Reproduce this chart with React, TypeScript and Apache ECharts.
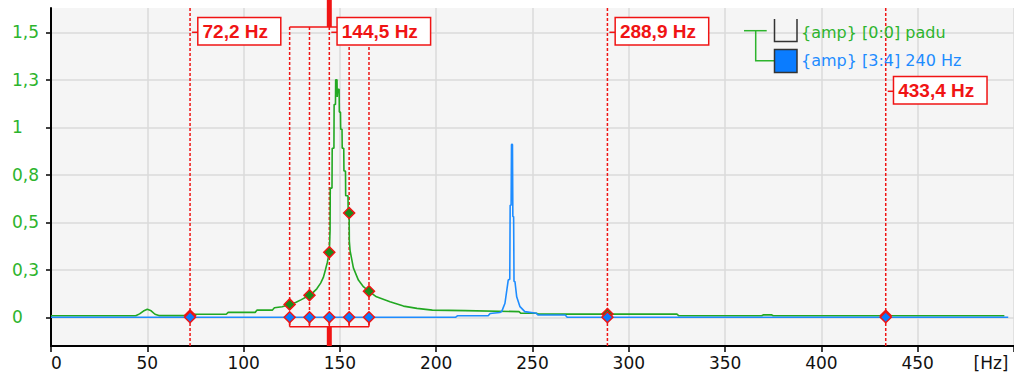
import React, { useEffect, useRef } from 'react';
import * as echarts from 'echarts';

// ---------- data ----------
const greenName = '{amp} [0:0] padu';
const blueName = '{amp} [3:4] 240 Hz';

const greenPoints: [number, number][] = [
  [0, 0.008], [44, 0.008], [46, 0.018], [48, 0.033], [50, 0.042], [52, 0.034], [54, 0.016], [56, 0.009],
  [73, 0.009], [74, 0.016], [91, 0.016], [92, 0.026], [106, 0.026], [107, 0.038], [115, 0.038], [116, 0.05],
  [120, 0.056], [123.9, 0.068], [127, 0.078], [130, 0.093], [134.2, 0.116], [136, 0.13], [138, 0.15],
  [140, 0.18], [141.4, 0.21], [142.5, 0.25], [143.5, 0.29], [144.5, 0.342], [144.9, 0.46], [145, 0.68],
  [145.9, 0.68], [146, 0.89], [146.9, 0.89], [147, 1.12], [147.7, 1.12], [147.8, 1.25], [148.5, 1.25],
  [148.6, 1.16], [148.9, 1.2], [149.6, 1.2], [149.7, 1.08], [150.3, 1.08], [150.4, 0.99], [151.1, 0.99],
  [151.2, 0.89], [152, 0.89], [152.1, 0.77], [152.9, 0.77], [153, 0.64], [154.2, 0.64], [154.3, 0.55],
  [154.8, 0.549], [154.9, 0.4], [155.3, 0.35], [157, 0.26], [159.6, 0.196], [162.2, 0.161], [165.1, 0.137],
  [169, 0.108], [176, 0.082], [183, 0.059], [190, 0.047], [198, 0.038], [215, 0.035], [243, 0.03],
  [244, 0.021], [252, 0.021], [253, 0.017], [325, 0.017], [326, 0.008], [369, 0.008], [370, 0.013],
  [374, 0.013], [375, 0.008], [495, 0.008],
];

const bluePoints: [number, number][] = [
  [0, 0], [210, 0], [211, 0.008], [227, 0.008], [228, 0.02], [233, 0.025], [234, 0.03], [235.7, 0.074],
  [237.4, 0.196], [238.2, 0.2], [238.4, 0.59], [238.9, 0.59], [239.1, 0.91], [239.6, 0.91], [239.8, 0.53],
  [240.2, 0.53], [240.4, 0.19], [240.9, 0.187], [241.8, 0.108], [243.5, 0.056], [246, 0.03], [252, 0.021],
  [253, 0.012], [267, 0.012], [268, 0], [497, 0],
];

const harmonicFreqs = [72.2, 144.5, 288.9, 433.4];
const harmonicLabels = ['72,2 Hz', '144,5 Hz', '288,9 Hz', '433,4 Hz'];
const sidebandFreqs = [123.9, 134.2, 144.5, 154.8, 165.1];
const markerFreqs = [72.2, 123.9, 134.2, 144.5, 154.8, 165.1, 288.9, 433.4];
const markerGreenAmp = [0.009, 0.068, 0.116, 0.342, 0.549, 0.137, 0.017, 0.008];
const markerBlueAmp = [0, 0, 0, 0, 0, 0, 0, 0];
const yTicks = [0, 0.25, 0.5, 0.75, 1, 1.25, 1.5];
const X_MIN = 0;
const X_MAX = 500;
const X_STEP = 50;
const Y_MIN = -0.151;
const Y_MAX = 1.628;
const xUnit = '[Hz]';

// ---------- style / layout ----------
const FONT = '"DejaVu Sans", Verdana, sans-serif';
const GREEN = '#22a822';
const GREEN_TXT = '#2db42d';
const BLUE = '#1e8cff';
const BLUE_FILL = '#0a7cff';
const RED = '#f01414';
const LABEL_Y = [31.3, 31.3, 31.3, 90.3];
const BRACKET_TOP_Y = 27;
const BRACKET_DROP = 9.4;

function fmtY(v: number) {
  if (Math.abs(v) < 1e-9) return '0';
  if (Math.abs(v - 1) < 1e-9) return '1';
  return (Math.round(v * 10) / 10).toFixed(1).replace('.', ',');
}

export default function App() {
  const ref = useRef<HTMLDivElement>(null);
  useEffect(() => {
    const el = ref.current!;
    const chart = echarts.init(el, null, { renderer: 'svg' });
    const option: any = {
      animation: false,
      backgroundColor: '#ffffff',
      textStyle: { fontFamily: FONT },
      grid: {
        left: 51, right: 0, top: 8, bottom: 35,
        show: true, backgroundColor: '#f5f5f5', borderWidth: 0,
        containLabel: false, outerBoundsMode: 'none',
      },
      xAxis: {
        type: 'value', min: X_MIN, max: X_MAX, interval: X_STEP,
        axisLine: { show: true, onZero: false, lineStyle: { color: '#000', width: 2 } },
        axisTick: { show: true, length: 6, lineStyle: { color: '#000', width: 1.5 } },
        axisLabel: {
          show: true, color: '#111', fontSize: 17, fontFamily: FONT, margin: 8,
          alignMinLabel: 'left',
          formatter: (v: number) => (v >= X_MAX ? '' : String(v)),
        },
        splitLine: { show: true, lineStyle: { color: '#dadada', width: 1.5 } },
      },
      yAxis: {
        type: 'value', min: Y_MIN, max: Y_MAX,
        axisLine: { show: true, onZero: false, lineStyle: { color: '#000', width: 2 } },
        axisTick: { show: true, length: 5, customValues: yTicks, lineStyle: { color: '#000', width: 1.5 } },
        axisLabel: {
          show: true, customValues: yTicks, color: GREEN_TXT, fontSize: 17, fontFamily: FONT,
          align: 'left', margin: 39, formatter: fmtY,
        },
        splitLine: { show: true, lineStyle: { color: '#dadada', width: 1.5 } },
      },
      series: [
        {
          name: greenName, type: 'line', data: greenPoints, showSymbol: false, symbol: 'none',
          lineStyle: { color: GREEN, width: 1.6 }, itemStyle: { color: GREEN }, z: 2,
        },
        {
          name: blueName, type: 'line', data: bluePoints, showSymbol: false, symbol: 'none',
          lineStyle: { color: BLUE, width: 1.6 }, itemStyle: { color: BLUE }, z: 3,
        },
        {
          type: 'scatter', symbol: 'diamond', symbolSize: [11, 11],
          data: markerFreqs.map((f, i) => [f, markerGreenAmp[i]]),
          itemStyle: { color: '#1a8c1a', borderColor: RED, borderWidth: 1.5, opacity: 1 }, z: 4,
        },
        {
          type: 'scatter', symbol: 'diamond', symbolSize: [11, 11],
          data: markerFreqs.map((f, i) => [f, markerBlueAmp[i]]),
          itemStyle: { color: BLUE_FILL, borderColor: RED, borderWidth: 1.5, opacity: 1 }, z: 5,
        },
      ],
    };
    chart.setOption(option);

    const px = (x: number, y: number) => chart.convertToPixel({ gridIndex: 0 }, [x, y]) as number[];
    const topY = px(0, Y_MAX)[1];
    const botY = px(0, Y_MIN)[1];
    const zeroY = px(0, 0)[1];
    const bracketBotY = zeroY + BRACKET_DROP;
    const dash = { stroke: RED, lineWidth: 1.5, lineDash: [3, 2] };
    const solid = { stroke: RED, lineWidth: 1.5 };
    const els: any[] = [];
    const line = (x1: number, y1: number, x2: number, y2: number, style: any, z = 1) =>
      els.push({ type: 'line', shape: { x1, y1, x2, y2 }, style, z, silent: true });

    // sideband group
    const centerF = harmonicFreqs[1];
    const cx = px(centerF, 0)[0];
    const sbX = sidebandFreqs.map((f) => px(f, 0)[0]);
    sbX.forEach((x) => {
      line(x, BRACKET_TOP_Y, x, bracketBotY, dash);
      line(x, zeroY, x, bracketBotY, solid);
    });
    line(sbX[0], BRACKET_TOP_Y, cx + 9, BRACKET_TOP_Y, solid);
    line(sbX[0], bracketBotY, sbX[sbX.length - 1], bracketBotY, solid);
    els.push({ type: 'rect', shape: { x: cx - 2.5, y: 0, width: 5, height: BRACKET_TOP_Y }, style: { fill: RED }, z: 1 });
    els.push({ type: 'rect', shape: { x: cx - 2.5, y: bracketBotY, width: 5, height: botY - bracketBotY }, style: { fill: RED }, z: 1 });

    // harmonic lines + labels
    harmonicFreqs.forEach((f, i) => {
      const x = px(f, 0)[0];
      if (f !== centerF) line(x, topY, x, botY, dash);
      const ly = LABEL_Y[i];
      line(x + 2, ly + 1, x + 8, ly + 1, solid, 6);
      els.push({
        type: 'text', z: 7, silent: true, x: x + 8.5, y: ly,
        style: {
          text: harmonicLabels[i], fill: RED, font: 'bold 19px "Liberation Sans", Arial, sans-serif',
          align: 'left', verticalAlign: 'middle', backgroundColor: '#ffffff', borderColor: RED,
          borderWidth: 1.5, padding: [3, 12, 3, 4], lineHeight: 20,
        },
      });
    });

    // legend
    const lg = { stroke: GREEN_TXT, lineWidth: 1.5 };
    els.push({ type: 'polyline', shape: { points: [[744, 30.7], [766.7, 30.7]] }, style: { ...lg, fill: 'none' }, z: 8 });
    els.push({ type: 'polyline', shape: { points: [[755.7, 30.7], [755.7, 60.7], [774, 60.7]] }, style: { ...lg, fill: 'none' }, z: 8 });
    els.push({ type: 'polyline', shape: { points: [[774.5, 19], [774.5, 41.5], [797, 41.5], [797, 19]] }, style: { stroke: '#333', lineWidth: 1.5, fill: 'none' }, z: 8 });
    els.push({ type: 'rect', shape: { x: 774.5, y: 49.5, width: 22.5, height: 23 }, style: { fill: BLUE_FILL, stroke: '#333', lineWidth: 1.5 }, z: 8 });
    els.push({ type: 'text', x: 801, y: 32.3, z: 8, style: { text: greenName, fill: GREEN_TXT, font: `16px ${FONT}`, align: 'left', verticalAlign: 'middle' } });
    els.push({ type: 'text', x: 801, y: 60.7, z: 8, style: { text: blueName, fill: BLUE, font: `16px ${FONT}`, align: 'left', verticalAlign: 'middle' } });

    // unit label
    els.push({ type: 'text', x: 991, y: 363.3, z: 8, style: { text: xUnit, fill: '#111', font: `17px ${FONT}`, align: 'center', verticalAlign: 'middle' } });

    chart.setOption({ graphic: { elements: els } });
    return () => chart.dispose();
  }, []);
  return <div ref={ref} style={{ position: 'fixed', left: 0, top: 0, width: 1014, height: 381 }} />;
}
